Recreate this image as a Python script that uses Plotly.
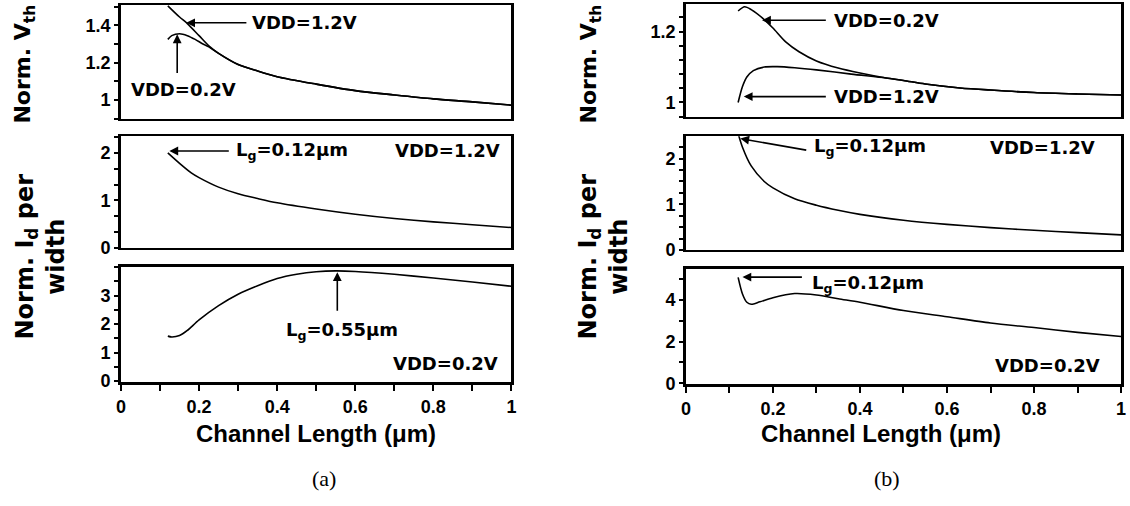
import plotly.graph_objects as go

W, H = 1130, 506

# ---------------- data ----------------
# (a) top: normalized Vth
a_vth12_x = [0.12, 0.15, 0.17, 0.20, 0.225, 0.25, 0.30, 0.35, 0.40, 0.50, 0.60, 0.70, 0.80, 0.90, 1.00]
a_vth12_y = [1.505, 1.445, 1.41, 1.345, 1.29, 1.25, 1.19, 1.155, 1.125, 1.085, 1.05, 1.027, 1.006, 0.99, 0.972]
a_vth02_x = [0.12, 0.13, 0.15, 0.17, 0.19, 0.21, 0.225, 0.25, 0.30, 0.35, 0.40, 0.50, 0.60, 0.70, 0.80, 0.90, 1.00]
a_vth02_y = [1.325, 1.345, 1.355, 1.345, 1.325, 1.30, 1.285, 1.25, 1.19, 1.155, 1.125, 1.085, 1.05, 1.027, 1.006, 0.99, 0.972]
# (a) middle: Id per width, VDD=1.2V
a_id12_x = [0.12, 0.15, 0.18, 0.20, 0.25, 0.30, 0.35, 0.40, 0.50, 0.60, 0.70, 0.80, 0.90, 1.00]
a_id12_y = [2.0, 1.78, 1.58, 1.48, 1.28, 1.14, 1.04, 0.95, 0.82, 0.71, 0.62, 0.55, 0.49, 0.43]
# (a) bottom: Id per width, VDD=0.2V
a_id02_x = [0.12, 0.13, 0.15, 0.17, 0.20, 0.25, 0.30, 0.35, 0.40, 0.45, 0.50, 0.55, 0.60, 0.70, 0.80, 0.90, 1.00]
a_id02_y = [1.58, 1.55, 1.60, 1.78, 2.15, 2.65, 3.05, 3.35, 3.60, 3.75, 3.84, 3.87, 3.85, 3.75, 3.62, 3.48, 3.33]

# (b) top: normalized Vth
b_vth02_x = [0.12, 0.135, 0.15, 0.18, 0.20, 0.23, 0.26, 0.30, 0.35, 0.40, 0.46, 0.50, 0.55, 0.63, 0.70, 0.80, 0.90, 1.00]
b_vth02_y = [1.258, 1.27, 1.262, 1.234, 1.21, 1.17, 1.143, 1.117, 1.097, 1.083, 1.069, 1.062, 1.052, 1.041, 1.035, 1.028, 1.024, 1.021]
b_vth12_x = [0.12, 0.13, 0.14, 0.155, 0.18, 0.21, 0.25, 0.30, 0.38, 0.46, 0.50, 0.55, 0.63, 0.70, 0.80, 0.90, 1.00]
b_vth12_y = [1.0, 1.045, 1.072, 1.09, 1.10, 1.101, 1.098, 1.092, 1.08, 1.069, 1.062, 1.052, 1.041, 1.035, 1.028, 1.024, 1.021]
# (b) middle: Id per width, VDD=1.2V
b_id12_x = [0.12, 0.13, 0.15, 0.18, 0.20, 0.25, 0.30, 0.35, 0.40, 0.50, 0.60, 0.70, 0.80, 0.90, 1.00]
b_id12_y = [2.55, 2.25, 1.84, 1.50, 1.36, 1.12, 0.98, 0.87, 0.78, 0.65, 0.56, 0.49, 0.43, 0.38, 0.33]
# (b) bottom: Id per width, VDD=0.2V
b_id02_x = [0.12, 0.13, 0.14, 0.15, 0.17, 0.20, 0.25, 0.30, 0.35, 0.40, 0.50, 0.60, 0.70, 0.80, 0.90, 1.00]
b_id02_y = [5.1, 4.3, 3.9, 3.8, 3.92, 4.12, 4.32, 4.25, 4.07, 3.90, 3.50, 3.20, 2.90, 2.68, 2.45, 2.25]

x_tickvals = [0, 0.2, 0.4, 0.6, 0.8, 1]
x_ticktext = ["0", "0.2", "0.4", "0.6", "0.8", "1"]

# ---------------- layout helpers ----------------
def px_x(a, b):
    return [a / W, b / W]

def px_y(top, bottom):
    return [1 - bottom / H, 1 - top / H]

BOLD = "DejaVu Sans, Liberation Sans, Arial"
LIB = "Liberation Sans, Arial, sans-serif"

panels = [
    ("1", px_x(117, 511), px_y(5, 121), [0.9, 1.51], [1, 1.2, 1.4], 0.1, False),
    ("2", px_x(117, 511), px_y(139, 253), [0, 2.35], [0, 1, 2], 1 / 3, False),
    ("3", px_x(117, 511), px_y(272, 390), [-0.04, 4.02], [0, 1, 2, 3], 0.5, True),
    ("4", px_x(687, 1126), px_y(4, 119), [0.96, 1.278], [1, 1.2], 0.04, False),
    ("5", px_x(687, 1126), px_y(139, 255), [0, 2.49], [0, 1, 2], 0.25, False),
    ("6", px_x(687, 1126), px_y(274, 392), [-0.05, 5.52], [0, 2, 4], 1, True),
]

fig = go.Figure()

series = [
    ("1", a_vth12_x, a_vth12_y),
    ("1", a_vth02_x, a_vth02_y),
    ("2", a_id12_x, a_id12_y),
    ("3", a_id02_x, a_id02_y),
    ("4", b_vth02_x, b_vth02_y),
    ("4", b_vth12_x, b_vth12_y),
    ("5", b_id12_x, b_id12_y),
    ("6", b_id02_x, b_id02_y),
]
for k, xs, ys in series:
    fig.add_trace(go.Scatter(
        x=xs, y=ys, mode="lines",
        line=dict(color="black", width=1.6, shape="spline", smoothing=0.8),
        xaxis="x" + ("" if k == "1" else k), yaxis="y" + ("" if k == "1" else k),
        showlegend=False, hoverinfo="skip", cliponaxis=True,
    ))

layout = dict(
    width=W, height=H, margin=dict(l=0, r=0, t=0, b=0),
    paper_bgcolor="white", plot_bgcolor="white", showlegend=False,
)
for name, xd, yd, yr, ytv, mdt, bottom in panels:
    xk = "xaxis" + ("" if name == "1" else name)
    yk = "yaxis" + ("" if name == "1" else name)
    xa = dict(
        domain=xd, range=[0, 1], anchor="y" + ("" if name == "1" else name),
        showline=True, linecolor="black", linewidth=2 if not bottom else 3, mirror=True,
        showgrid=False, zeroline=False, fixedrange=True,
    )
    if bottom:
        xa.update(
            tickvals=x_tickvals, ticktext=x_ticktext, ticks="outside", ticklen=6,
            tickwidth=1.5, tickcolor="black",
            tickfont=dict(family=LIB, size=18, color="black", weight="bold"),
            minor=dict(dtick=0.1, tick0=0, ticks="outside", ticklen=6, tickwidth=1.5, tickcolor="black"),
        )
    else:
        xa.update(showticklabels=False, ticks="")
    ya = dict(
        domain=yd, range=yr, anchor="x" + ("" if name == "1" else name),
        showline=True, linecolor="black", linewidth=2.5, mirror=True,
        showgrid=False, zeroline=False, fixedrange=True,
        tickvals=ytv, ticktext=[("%g" % v) for v in ytv],
        ticks="outside", ticklen=4, tickwidth=1.5, tickcolor="black",
        tickfont=dict(family=LIB, size=18, color="black", weight="bold"),
        minor=dict(dtick=mdt, tick0=0, ticks="outside", ticklen=4, tickwidth=1.5, tickcolor="black"),
    )
    layout[xk] = xa
    layout[yk] = ya
fig.update_layout(**layout)

# ---------------- annotations ----------------
ann = []
TF = dict(family=BOLD, size=18, color="black", weight="bold")

def arrow(ax_name, x, y, tx, ty):
    xr = "x" + ("" if ax_name == "1" else ax_name)
    yr = "y" + ("" if ax_name == "1" else ax_name)
    ann.append(dict(
        x=x, y=y, ax=tx, ay=ty, xref=xr, yref=yr, axref=xr, ayref=yr,
        text="", showarrow=True, arrowhead=2, arrowsize=1.1, arrowwidth=1.6,
        arrowcolor="black", standoff=0, startstandoff=0,
    ))

def label(ax_name, x, y, text, xanchor="center"):
    xr = "x" + ("" if ax_name == "1" else ax_name)
    yr = "y" + ("" if ax_name == "1" else ax_name)
    ann.append(dict(
        x=x, y=y, xref=xr, yref=yr, text=text, showarrow=False,
        xanchor=xanchor, yanchor="middle", font=TF,
    ))

# (a) top
arrow("1", 0.167, 1.414, 0.325, 1.414)
label("1", 0.33, 1.414, "VDD=1.2V", "left")
arrow("1", 0.144, 1.352, 0.144, 1.137)
label("1", 0.159, 1.057, "VDD=0.2V")
# (a) middle
arrow("2", 0.124, 2.04, 0.28, 2.04)
label("2", 0.29, 2.04, "L<sub>g</sub>=0.12μm", "left")
label("2", 0.835, 2.04, "VDD=1.2V")
# (a) bottom
arrow("3", 0.554, 3.82, 0.554, 2.42)
label("3", 0.565, 1.75, "L<sub>g</sub>=0.55μm")
label("3", 0.83, 0.61, "VDD=0.2V")
# (b) top
arrow("4", 0.175, 1.232, 0.325, 1.232)
label("4", 0.335, 1.232, "VDD=0.2V", "left")
arrow("4", 0.133, 1.0165, 0.325, 1.0165)
label("4", 0.335, 1.0165, "VDD=1.2V", "left")
# (b) middle
arrow("5", 0.125, 2.44, 0.28, 2.18)
label("5", 0.29, 2.25, "L<sub>g</sub>=0.12μm", "left")
label("5", 0.82, 2.25, "VDD=1.2V")
# (b) bottom
arrow("6", 0.13, 5.11, 0.27, 5.11)
label("6", 0.285, 4.79, "L<sub>g</sub>=0.12μm", "left")
label("6", 0.83, 0.87, "VDD=0.2V")

# axis titles (paper coords)
def ptext(xp, yp, text, font, angle=0):
    ann.append(dict(x=xp / W, y=1 - yp / H, xref="paper", yref="paper", text=text,
                    showarrow=False, xanchor="center", yanchor="middle",
                    textangle=angle, font=font))

YT1 = dict(family=BOLD, size=22, color="black", weight="bold")
YT2 = dict(family=BOLD, size=24, color="black", weight="bold")
ptext(20, 65, "Norm. V<sub>th</sub>", YT1, -90)
ptext(36, 262, "Norm. I<sub>d</sub> per<br>width", YT2, -90)
ptext(591, 65, "Norm. V<sub>th</sub>", YT1, -90)
ptext(604, 262, "Norm. I<sub>d</sub> per<br>width", YT2, -90)

XT = dict(family=LIB, size=24, color="black", weight="bold")
ptext(314, 442, "Channel Length (μm)", XT)
ptext(884, 442, "Channel Length (μm)", XT)

CT = dict(family="Liberation Serif, Times New Roman, serif", size=22, color="black")
ptext(322, 488, "(a)", CT)
ptext(890, 488, "(b)", CT)

fig.update_layout(annotations=ann)
fig.write_html("out.html")
